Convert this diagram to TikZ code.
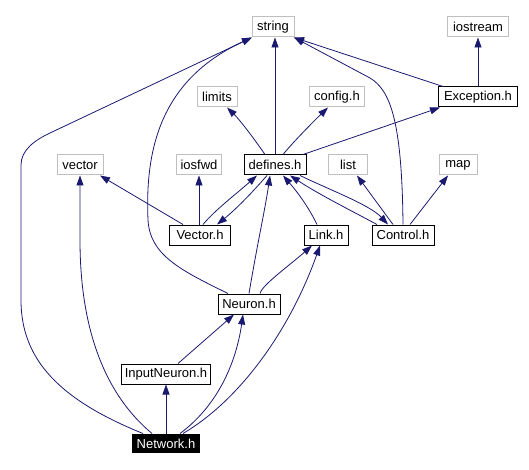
\documentclass[tikz,border=0pt]{standalone}
\usepackage{fontspec}
\setmainfont{Liberation Sans}
\usetikzlibrary{arrows.meta}
\definecolor{edgec}{HTML}{191970}
\definecolor{extc}{HTML}{BFBFBF}
\begin{document}
\begin{tikzpicture}[x=1pt,y=-1pt,
  base/.style={rectangle,minimum height=20pt,inner xsep=2pt,inner ysep=0pt,font=\fontsize{13}{15}\selectfont,line width=1pt},
  ext/.style={base,draw=extc},
  int/.style={base,draw=black},
  cur/.style={base,fill=black,text=white},
  dep/.style={draw=edgec,line width=0.8pt,-{Triangle[length=10pt,width=7pt]}}]
\useasboundingbox (0,0) rectangle (529,470);
% nodes
\node[ext,minimum width=42pt] (string) at (273,27) {string};
\node[ext,minimum width=61pt] (iostream) at (478,27) {iostream};
\node[ext,minimum width=40pt] (limits) at (217,97) {limits};
\node[ext,minimum width=55pt] (config) at (337,97) {config.h};
\node[int,minimum width=79pt] (exc) at (478,97) {Exception.h};
\node[ext,minimum width=46pt] (vector) at (80,165) {vector};
\node[ext,minimum width=45pt] (iosfwd) at (199,165) {iosfwd};
\node[int,minimum width=62pt] (defines) at (275,165) {defines.h};
\node[ext,minimum width=39pt] (list) at (348,165) {list};
\node[ext,minimum width=38pt] (map) at (458,165) {map};
\node[int,minimum width=61pt] (vech) at (200,235) {Vector.h};
\node[int,minimum width=44pt] (link) at (326,235) {Link.h};
\node[int,minimum width=62pt] (control) at (403,235) {Control.h};
\node[int,minimum width=62pt] (neuron) at (249,304) {Neuron.h};
\node[int,minimum width=89pt] (input) at (166,374) {InputNeuron.h};
\node[cur,minimum width=68pt,minimum height=19pt] (net) at (166,443.5) {Network.h};
% edges from Network.h
\draw[dep] ([xshift=-23pt]net.north) .. controls (60,400) and (21,360) .. (21,300) -- (21,165) .. controls (21,150) and (35,140) .. (50,133) -- ([xshift=-21pt]string.south);
\draw[dep] ([xshift=-14pt]net.north) .. controls (100,390) and (80,320) .. (80,240) -- (vector.south);
\draw[dep] (net.north) -- (input.south);
\draw[dep] ([xshift=14pt]net.north) .. controls (225,400) and (238,350) .. ([xshift=-6pt]neuron.south);
\draw[dep] ([xshift=17pt]net.north) .. controls (240,400) and (290,330) .. ([xshift=-6pt]link.south);
% InputNeuron
\draw[dep] ([xshift=12pt]input.north) -- ([xshift=-15pt]neuron.south);
% Neuron
\draw[dep] ([xshift=-21pt]neuron.north) .. controls (180,270) and (150,255) .. (148,220) .. controls (145,150) and (160,80) .. ([xshift=-21pt]string.south);
\draw[dep] (neuron.north) .. controls (258,240) and (265,210) .. ([xshift=-5pt]defines.south);
\draw[dep] ([xshift=11pt]neuron.north) .. controls (262,285) and (290,265) .. ([xshift=-14pt]link.south);
% Vector.h
\draw[dep] ([xshift=-17pt]vech.north) -- ([xshift=20pt]vector.south);
\draw[dep] ([xshift=-1pt]vech.north) -- (iosfwd.south);
\draw[dep] ([xshift=3pt]vech.north) .. controls (215,210) and (235,195) .. ([xshift=-18pt]defines.south);
\draw[dep] ([xshift=-8pt]defines.south) .. controls (250,195) and (235,210) .. ([xshift=17pt]vech.north);
% Link.h
\draw[dep] ([xshift=-9pt]link.north) .. controls (310,210) and (300,195) .. ([xshift=8pt]defines.south);
% Control.h
\draw[dep] ([xshift=-26pt]control.north) .. controls (350,210) and (320,195) .. ([xshift=15pt]defines.south);
\draw[dep] ([xshift=25pt]defines.south) .. controls (330,190) and (370,205) .. ([xshift=-15pt]control.north);
\draw[dep] ([xshift=-10pt]control.north) -- ([xshift=9pt]list.south);
\draw[dep] ([xshift=7pt]control.north) -- ([xshift=-10pt]map.south);
\draw[dep] (control.north) .. controls (402,120) and (390,90) .. (370,78) -- ([xshift=21pt]string.south);
% Exception.h
\draw[dep] ([xshift=-35pt]exc.north) -- ([xshift=21pt]string.south);
\draw[dep] (exc.north) -- (iostream.south);
% defines.h
\draw[dep] (defines.north) -- ([xshift=2pt]string.south) ;
\draw[dep] ([xshift=-10pt]defines.north) .. controls (255,140) and (240,120) .. ([xshift=10pt]limits.south);
\draw[dep] ([xshift=8pt]defines.north) .. controls (295,140) and (315,120) .. ([xshift=-9pt]config.south);
\draw[dep] ([xshift=28pt]defines.north) -- ([xshift=-38pt]exc.south);
\end{tikzpicture}
\end{document}
